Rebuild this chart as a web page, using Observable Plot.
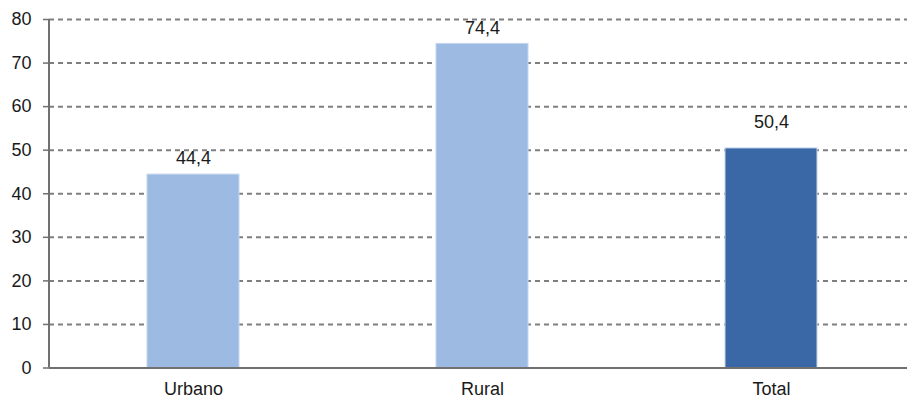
<!DOCTYPE html>
<html><head><meta charset="utf-8">
<script src="https://cdn.jsdelivr.net/npm/d3@7"></script>
<script src="https://cdn.jsdelivr.net/npm/@observablehq/plot@0.6"></script>
<style>
body{margin:0;background:#fff;}
svg{font-family:"Liberation Sans",Arial,sans-serif;}
</style></head><body>
<div id="chart"></div>
<script>
const categories = ["Urbano", "Rural", "Total"];
const values = [44.4, 74.4, 50.4];
const colors = ["#9dbae2", "#9dbae2", "#3a68a6"];
const yTicks = [0, 10, 20, 30, 40, 50, 60, 70, 80];

const data = categories.map((c, i) => ({cat: c, v: values[i], color: colors[i]}));
const fmt = v => v.toFixed(1).replace(".", ",");

const chart = Plot.plot({
  width: 910,
  height: 401,
  marginLeft: 49,
  marginRight: 3,
  marginTop: 19,
  marginBottom: 33.5,
  style: {fontFamily: '"Liberation Sans", Arial, sans-serif', fontSize: "18px", color: "#222", background: "#fff"},
  x: {domain: categories, range: [49, 916], paddingInner: 0.68, paddingOuter: 0.34, label: null},
  y: {domain: [0, 80], ticks: yTicks, label: null},
  marks: [
    Plot.ruleY(yTicks.filter(d => d > 0), {stroke: "#7f7f7f", strokeWidth: 2, strokeDasharray: "5,4"}),
    Plot.barY(data, {x: "cat", y: "v", fill: "color", stroke: "#c5d6ef", strokeWidth: 1}),
    Plot.text(data.filter(d => d.cat !== "Total"), {x: "cat", y: "v", text: d => fmt(d.v), dy: -16, fill: "#1a1a1a", fontSize: 18}),
    Plot.text(data.filter(d => d.cat === "Total"), {x: "cat", y: "v", text: d => fmt(d.v), dy: -26, fill: "#1a1a1a", fontSize: 18}),
    Plot.axisY({ticks: yTicks, tickSize: 6, tickPadding: 12, stroke: "#707070", strokeWidth: 1.5, fill: "#1a1a1a", fontSize: 18, label: null}),
    Plot.axisX({tickSize: 0, tickPadding: 14, fill: "#1a1a1a", fontSize: 18, label: null}),
    Plot.ruleY([0], {stroke: "#707070", strokeWidth: 2})
  ]
});
document.getElementById("chart").appendChild(chart);
// vertical axis line
d3.select(chart).append("line").attr("x1", 49).attr("x2", 49).attr("y1", 19).attr("y2", 367.5).attr("stroke", "#707070").attr("stroke-width", 2);
</script>
</body></html>
